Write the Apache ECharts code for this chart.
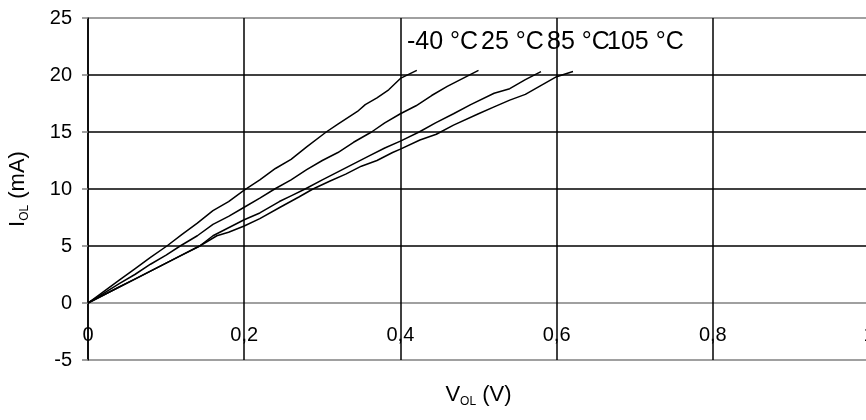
<!DOCTYPE html>
<html>
<head>
<meta charset="utf-8">
<script src="https://cdn.jsdelivr.net/npm/echarts@6/dist/echarts.min.js"></script>
<style>
  html, body { margin: 0; padding: 0; background: #fff; }
  #chart { width: 866px; height: 420px; }
</style>
</head>
<body>
<div id="chart"></div>
<script>
// V_OL vs I_OL kurven, je temperatur
var tempNames = ['-40 °C', '25 °C', '85 °C', '105 °C'];

var vol_m40 = [0, 0.02, 0.04, 0.06, 0.08, 0.101, 0.12, 0.14, 0.16, 0.18, 0.2, 0.22, 0.24, 0.26, 0.28, 0.305, 0.32, 0.345, 0.355, 0.37, 0.385, 0.4, 0.421];
var iol_m40 = [0, 1.0, 2.0, 3.0, 4.0, 5.0, 6.0, 7.0, 8.1, 8.9, 9.9, 10.8, 11.8, 12.6, 13.7, 15.0, 15.7, 16.8, 17.4, 18.0, 18.7, 19.7, 20.4];

var vol_25 = [0, 0.02, 0.04, 0.06, 0.08, 0.1, 0.118, 0.14, 0.16, 0.18, 0.2, 0.22, 0.239, 0.26, 0.28, 0.3, 0.32, 0.34, 0.363, 0.38, 0.4, 0.42, 0.44, 0.46, 0.48, 0.5];
var iol_25 = [0, 0.85, 1.7, 2.5, 3.4, 4.2, 5.0, 5.9, 6.9, 7.6, 8.4, 9.2, 10.0, 10.8, 11.7, 12.5, 13.2, 14.1, 15.0, 15.8, 16.6, 17.3, 18.2, 19.0, 19.7, 20.4];

var vol_85 = [0, 0.02, 0.04, 0.06, 0.08, 0.1, 0.12, 0.143, 0.16, 0.18, 0.2, 0.22, 0.245, 0.26, 0.278, 0.3, 0.32, 0.34, 0.36, 0.38, 0.4, 0.424, 0.445, 0.468, 0.49, 0.52, 0.54, 0.56, 0.58];
var iol_85 = [0, 0.7, 1.4, 2.1, 2.8, 3.5, 4.2, 5.0, 5.9, 6.6, 7.3, 7.9, 8.9, 9.4, 10.0, 10.8, 11.5, 12.2, 12.9, 13.6, 14.2, 15.0, 15.8, 16.6, 17.4, 18.4, 18.8, 19.6, 20.3];

var vol_105 = [0, 0.02, 0.04, 0.06, 0.08, 0.1, 0.12, 0.143, 0.165, 0.18, 0.2, 0.22, 0.246, 0.27, 0.288, 0.31, 0.33, 0.35, 0.37, 0.39, 0.4, 0.425, 0.446, 0.468, 0.5, 0.52, 0.54, 0.56, 0.578, 0.6, 0.621];
var iol_105 = [0, 0.7, 1.4, 2.1, 2.8, 3.5, 4.2, 5.0, 5.9, 6.2, 6.75, 7.4, 8.4, 9.3, 10.0, 10.7, 11.3, 12.0, 12.5, 13.2, 13.5, 14.3, 14.8, 15.6, 16.6, 17.2, 17.8, 18.3, 19.0, 19.85, 20.3];

// y-gitterlinien: -5, 0, 5, 10, 15, 20, 25
var yLineColors = ['#808080', '#808080', '#000', '#000', '#000', '#000', '#808080'];

function pairs(xs, ys) {
    var out = [];
    for (var i = 0; i < xs.length; i++) {
        out.push([xs[i], ys[i]]);
    }
    return out;
}

var chart = echarts.init(document.getElementById('chart'));

var FONT = 'Liberation Sans, Arial, sans-serif';
var nameRich = {
    m : { fontSize : 22, fontFamily : FONT, color : '#000', verticalAlign : 'top', lineHeight : 26 },
    s : { fontSize : 12, fontFamily : FONT, color : '#000', verticalAlign : 'top', lineHeight : 12, padding : [12, 0, 0, 0] }
};

var allData = [pairs(vol_m40, iol_m40), pairs(vol_25, iol_25), pairs(vol_85, iol_85), pairs(vol_105, iol_105)];
var series = [];
for (var k = 0; k < allData.length; k++) {
    series.push({
        name : tempNames[k],
        type : 'line',
        showSymbol : false,
        symbol : 'none',
        smooth : false,
        lineStyle : { color : '#000', width : 1.5 },
        data : allData[k]
    });
}

var labelLeft = [407, 481, 547, 607];
var graphics = [];
for (var j = 0; j < tempNames.length; j++) {
    graphics.push({
        type : 'text',
        left : labelLeft[j],
        top : 30,
        style : { text : tempNames[j], fontSize : 25, fontFamily : FONT, fill : '#000' }
    });
}

var option = {
    backgroundColor : '#fff',
    animation : false,
    grid : {
        left : 88,
        right : -3,
        top : 18,
        bottom : 60,
        containLabel : false,
        outerBoundsMode : 'none'
    },
    xAxis : {
        type : 'value',
        min : 0,
        max : 1,
        interval : 0.2,
        name : '{m|V}{s|OL}{m| (V)}',
        nameLocation : 'middle',
        nameGap : 24,
        nameTextStyle : { rich : nameRich },
        axisLine : { show : false, onZero : false },
        axisTick : { show : false },
        axisLabel : {
            margin : -35,
            fontSize : 20,
            fontFamily : FONT,
            color : '#000',
            formatter : function(v) { return String(v).replace('.', ','); }
        },
        splitLine : { show : true, lineStyle : { color : '#000', width : 1.5 } }
    },
    yAxis : {
        type : 'value',
        min : -5,
        max : 25,
        interval : 5,
        name : '{m|I}{s|OL}{m| (mA)}',
        nameLocation : 'middle',
        nameGap : 55,
        nameRotate : 90,
        nameTextStyle : { rich : nameRich },
        axisLine : { show : true, onZero : false, lineStyle : { color : '#000', width : 1.5 } },
        axisTick : { show : true, length : 6, lineStyle : { color : '#808080', width : 1.5 } },
        axisLabel : { margin : 16, fontSize : 20, fontFamily : FONT, color : '#000' },
        splitLine : { show : true, lineStyle : { color : yLineColors, width : 1.5 } }
    },
    graphic : graphics,
    series : series
};
chart.setOption(option);
</script>
</body>
</html>
